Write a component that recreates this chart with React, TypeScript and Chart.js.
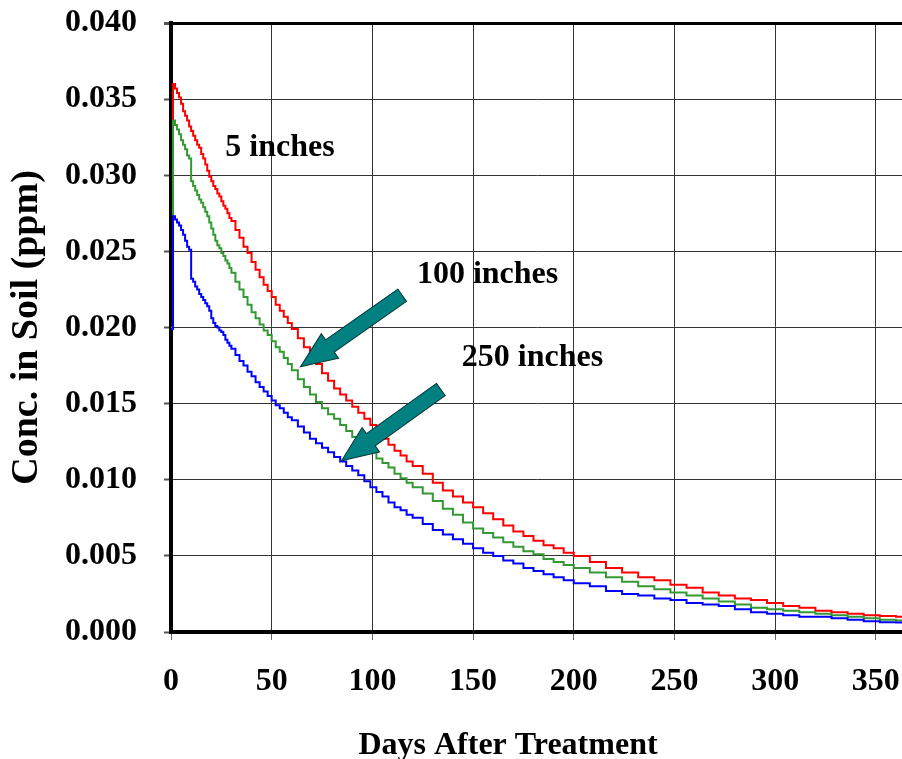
import React, { useEffect, useRef } from "react";
import { Chart, registerables } from "chart.js";

Chart.register(...registerables);

// Days after treatment at which the concentration level changes
const days = [
  0, 1, 2, 3, 4, 5, 6, 7, 8, 9, 10, 11, 12, 13, 14, 15, 16, 17, 18, 19, 20, 21, 22, 23, 24, 25, 26, 27, 28, 29, 30,
  32, 34, 36, 38, 40, 42, 44, 46, 48, 50, 52, 54, 56, 58, 60,
  63, 66, 69, 72, 75, 78, 81, 84, 87, 90, 93, 96, 99, 102, 105, 108, 111, 114, 117, 120,
  125, 130, 135, 140, 145, 150, 155, 160, 165, 170, 175, 180, 185, 190, 195, 200,
  208, 216, 224, 232, 240, 248, 256, 264, 272, 280, 288, 296, 304, 312, 320, 328, 336, 344, 352, 360, 365,
];

// Soil concentration (ppm), 5 inches of water
const conc5in = [
  0.02, 0.036, 0.0357, 0.0354, 0.0351, 0.0347, 0.0342, 0.0339, 0.0336, 0.0332, 0.0329, 0.0326, 0.0323, 0.032, 0.0318, 0.0314,
  0.0311, 0.0307, 0.0303, 0.0299, 0.0296, 0.0293, 0.0291, 0.0288, 0.0286, 0.0283, 0.028, 0.0278, 0.0275, 0.0272, 0.027,
  0.0264, 0.0259, 0.0253, 0.0249, 0.0243, 0.0238, 0.0233, 0.0228, 0.0224, 0.022, 0.0215, 0.0211, 0.0207, 0.0203, 0.0199,
  0.0193, 0.0187, 0.0181, 0.0176, 0.017, 0.0165, 0.016, 0.0156, 0.0152, 0.0148, 0.0144, 0.014, 0.0136, 0.0131, 0.0127, 0.0123,
  0.0119, 0.0116, 0.0112, 0.0109,
  0.0104, 0.0098, 0.0093, 0.0089, 0.0085, 0.0082, 0.0078, 0.0074, 0.007, 0.0066, 0.0063, 0.006, 0.0057, 0.0055, 0.0052, 0.005,
  0.0046, 0.0042, 0.0039, 0.0036, 0.0034, 0.0031, 0.0029, 0.0026, 0.0024, 0.0022, 0.0021, 0.0019, 0.0017, 0.0016, 0.0014,
  0.0013, 0.0012, 0.0011, 0.00105, 0.001, 0.001,
];

// Soil concentration (ppm), 100 inches of water
const conc100in = [
  0.02, 0.0336, 0.0333, 0.033, 0.0327, 0.0323, 0.032, 0.0317, 0.0313, 0.0311, 0.0296, 0.0293, 0.029, 0.0287, 0.0284, 0.0282,
  0.0279, 0.0276, 0.0273, 0.0269, 0.0265, 0.0261, 0.0257, 0.0254, 0.0252, 0.0249, 0.0247, 0.0244, 0.0242, 0.0239, 0.0236,
  0.023, 0.0225, 0.022, 0.0215, 0.021, 0.0206, 0.0202, 0.0198, 0.0195, 0.0191, 0.0187, 0.0184, 0.018, 0.0176, 0.0172,
  0.0166, 0.0161, 0.0156, 0.0151, 0.0147, 0.0143, 0.014, 0.0136, 0.0132, 0.0128, 0.0125, 0.0121, 0.0118, 0.0114, 0.0111, 0.0108,
  0.0104, 0.0101, 0.0098, 0.0095,
  0.0091, 0.0086, 0.0081, 0.0077, 0.0072, 0.0068, 0.0065, 0.0062, 0.0059, 0.0056, 0.0053, 0.0051, 0.0048, 0.0046, 0.0044, 0.0042,
  0.0039, 0.0036, 0.0033, 0.003, 0.0028, 0.0026, 0.0024, 0.0022, 0.002, 0.0018, 0.0016, 0.0015, 0.0014, 0.0013, 0.0012,
  0.0011, 0.001, 0.0009, 0.0008, 0.00076, 0.00076,
];

// Soil concentration (ppm), 250 inches of water
const conc250in = [
  0.0199, 0.0273, 0.0271, 0.0269, 0.0267, 0.0264, 0.0261, 0.0257, 0.0253, 0.0251, 0.0232, 0.023, 0.0227, 0.0225, 0.0222, 0.022,
  0.0218, 0.0216, 0.0214, 0.0211, 0.0206, 0.0203, 0.0201, 0.02, 0.0198, 0.0197, 0.0195, 0.0192, 0.019, 0.0188, 0.0186,
  0.0182, 0.0178, 0.0175, 0.0171, 0.0168, 0.0164, 0.0161, 0.0158, 0.0155, 0.0152, 0.0149, 0.0147, 0.0144, 0.0141, 0.0139,
  0.0135, 0.0131, 0.0127, 0.0124, 0.0121, 0.0118, 0.0115, 0.0112, 0.0109, 0.0106, 0.0103, 0.0099, 0.0095, 0.0092, 0.0089, 0.0085,
  0.0082, 0.008, 0.0077, 0.0075,
  0.0071, 0.0067, 0.0064, 0.0061, 0.0058, 0.0055, 0.0052, 0.005, 0.0047, 0.0045, 0.0042, 0.004, 0.0038, 0.0036, 0.0034, 0.0032,
  0.003, 0.0027, 0.0025, 0.0024, 0.0022, 0.0021, 0.0019, 0.0018, 0.0017, 0.0015, 0.0013, 0.0012, 0.0011, 0.001, 0.001,
  0.0009, 0.0008, 0.0007, 0.00064, 0.00062, 0.00062,
];

const xTicks = [0, 50, 100, 150, 200, 250, 300, 350];
const yTicks = [0, 0.005, 0.01, 0.015, 0.02, 0.025, 0.03, 0.035, 0.04];

// Curve labels, placed in data units (day, ppm)
const curveLabels = [
  { text: "5 inches", day: 54.1, conc: 0.0318 },
  { text: "100 inches", day: 157.2, conc: 0.02345 },
  { text: "250 inches", day: 179.5, conc: 0.01803 },
];

// Pointer arrows from the labels to their curves (tail -> tip), in data units
const pointerArrows = [
  { fromDay: 114.8, fromConc: 0.02212, toDay: 64.3, toConc: 0.01743 },
  { fromDay: 134.0, fromConc: 0.01593, toDay: 84.7, toConc: 0.01125 },
];

const FONT = '"Liberation Serif", "Times New Roman", serif';

const overlayPlugin = {
  id: "curveOverlay",
  afterDatasetsDraw(chart: any) {
    const { ctx, scales, chartArea } = chart;
    const x = scales.x;
    const y = scales.y;

    // teal block arrows
    for (const a of pointerArrows) {
      const x0 = x.getPixelForValue(a.fromDay);
      const y0 = y.getPixelForValue(a.fromConc);
      const x1 = x.getPixelForValue(a.toDay);
      const y1 = y.getPixelForValue(a.toConc);
      const len = Math.hypot(x1 - x0, y1 - y0);
      const ang = Math.atan2(y1 - y0, x1 - x0);
      const shaft = 15;
      const head = 30;
      const headLen = 36;
      ctx.save();
      ctx.translate(x0, y0);
      ctx.rotate(ang);
      ctx.beginPath();
      ctx.moveTo(0, -shaft / 2);
      ctx.lineTo(len - headLen, -shaft / 2);
      ctx.lineTo(len - headLen, -head / 2);
      ctx.lineTo(len, 0);
      ctx.lineTo(len - headLen, head / 2);
      ctx.lineTo(len - headLen, shaft / 2);
      ctx.lineTo(0, shaft / 2);
      ctx.closePath();
      ctx.fillStyle = "#008080";
      ctx.fill();
      ctx.lineWidth = 1;
      ctx.strokeStyle = "#003333";
      ctx.stroke();
      ctx.restore();
    }

    // curve labels
    ctx.save();
    ctx.font = `bold 32px ${FONT}`;
    ctx.fillStyle = "#000";
    ctx.textAlign = "center";
    ctx.textBaseline = "middle";
    for (const l of curveLabels) {
      ctx.fillText(l.text, x.getPixelForValue(l.day), y.getPixelForValue(l.conc));
    }
    // x-axis title
    ctx.fillText("Days After Treatment", chartArea.left + 337, chart.height - 13);
    ctx.restore();
  },
};

export default function App() {
  const canvasRef = useRef<HTMLCanvasElement | null>(null);

  useEffect(() => {
    const canvas = canvasRef.current;
    if (!canvas) return;
    const toPoints = (vals: number[]) => days.map((d, i) => ({ x: d, y: vals[i] }));

    const chart = new Chart(canvas, {
      type: "line",
      data: {
        datasets: [
          {
            label: "5 inches",
            data: toPoints(conc5in),
            borderColor: "#FF0000",
            order: 3,
          },
          {
            label: "100 inches",
            data: toPoints(conc100in),
            borderColor: "#339933",
            order: 2,
          },
          {
            label: "250 inches",
            data: toPoints(conc250in),
            borderColor: "#0000FF",
            order: 1,
          },
        ],
      },
      options: {
        animation: false,
        responsive: false,
        parsing: false,
        normalized: true,
        datasets: {
          line: {
            stepped: true,
            borderWidth: 2,
            pointRadius: 0,
            fill: false,
          },
        },
        layout: { padding: { top: 23, left: 0, right: 0, bottom: 0 } },
        plugins: {
          legend: { display: false },
          tooltip: { enabled: false },
          title: { display: false },
        },
        scales: {
          x: {
            type: "linear",
            min: 0,
            max: 363,
            afterBuildTicks: (scale: any) => {
              scale.ticks = xTicks.map((v) => ({ value: v }));
            },
            afterFit: (scale: any) => {
              scale.height = 127;
              scale.paddingLeft = 0;
              scale.paddingRight = 0;
            },
            ticks: {
              autoSkip: false,
              maxRotation: 0,
              padding: 23,
              color: "#000",
              font: { family: FONT, size: 32, weight: "bold" },
              callback: (v: any) => String(v),
            },
            grid: {
              color: "#333",
              lineWidth: 1,
              tickLength: 8,
              tickColor: "#666",
              tickWidth: 1,
            },
            border: { display: true, color: "#000", width: 4 },
          },
          y: {
            type: "linear",
            min: 0,
            max: 0.04,
            afterBuildTicks: (scale: any) => {
              scale.ticks = yTicks.map((v) => ({ value: v }));
            },
            afterFit: (scale: any) => {
              scale.width = 171;
              scale.paddingTop = 0;
              scale.paddingBottom = 0;
            },
            ticks: {
              autoSkip: false,
              padding: 27,
              color: "#000",
              font: { family: FONT, size: 32, weight: "bold" },
              callback: (v: any) => Number(v).toFixed(3),
            },
            grid: {
              color: (c: any) => (c.tick && Math.abs(c.tick.value - 0.04) < 1e-9 ? "#000" : "#333"),
              lineWidth: (c: any) => (c.tick && Math.abs(c.tick.value - 0.04) < 1e-9 ? 3 : 1),
              tickLength: 7,
              tickColor: "#555",
              tickWidth: (c: any) => (c.tick && Math.abs(c.tick.value - 0.04) < 1e-9 ? 3 : 2),
            },
            border: { display: true, color: "#000", width: 4 },
            title: {
              display: true,
              text: "Conc. in Soil (ppm)",
              color: "#000",
              font: { family: FONT, size: 38, weight: "bold", lineHeight: 1 },
              padding: { top: 8, bottom: 0 },
            },
          },
        },
      },
      plugins: [overlayPlugin],
    });

    return () => chart.destroy();
  }, []);

  return (
    <div style={{ position: "absolute", left: 0, top: 0, width: 902, height: 759, background: "#fff" }}>
      <canvas ref={canvasRef} width={902} height={759} style={{ display: "block" }} />
    </div>
  );
}
